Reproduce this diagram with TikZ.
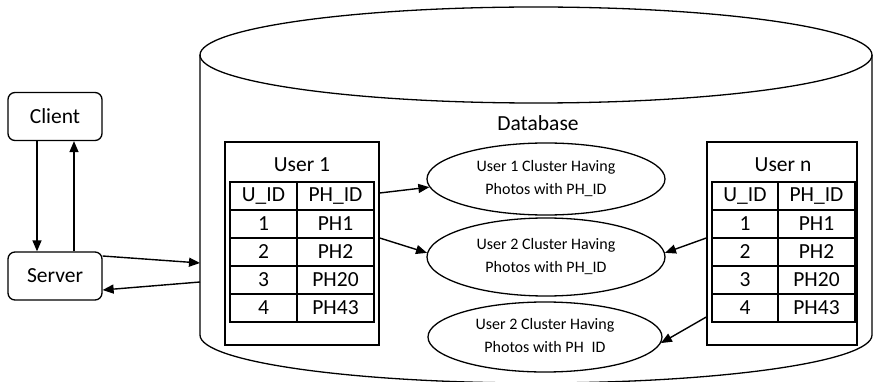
\documentclass[tikz,border=0pt]{standalone}
\usepackage{fontspec}
\setmainfont{Carlito}
\usetikzlibrary{shapes.geometric,arrows.meta}

\begin{document}
\begin{tikzpicture}[x=1pt,y=-1pt,
  mainfont/.style={font=\fontsize{21.5}{24}\selectfont},
  roundbox/.style={draw, line width=1.3pt, rounded corners=7pt, minimum width=94pt,
    minimum height=48pt, inner sep=0pt, mainfont},
  cluster/.style={draw, ellipse, line width=1.3pt, minimum width=238pt, minimum height=72pt,
    inner sep=0pt, align=center, font=\fontsize{16}{23}\selectfont},
  userbox/.style={draw, line width=1.4pt, minimum height=203pt, inner sep=0pt},
  grid/.style={line width=1.1pt},
  cell/.style={mainfont, inner sep=0pt},
  dbline/.style={line width=1.3pt},
  arr/.style={-{Triangle[length=11pt,width=9pt]}, line width=1.4pt}]

\useasboundingbox (0,0) rectangle (873,382);

% database cylinder
\draw[dbline] (200,55) -- (200,335) arc[start angle=180, end angle=0, x radius=336, y radius=48] -- (872,55);
\draw[dbline] (536,55) ellipse[x radius=336, y radius=48];
\node[mainfont] (dblabel) at (538,123) {Database};
\coordinate (dbin) at (200,263);
\coordinate (dbout) at (200,282);

% client and server
\node[roundbox] (client) at (55,116.5) {Client};
\node[roundbox] (server) at (55,276) {Server};

% user tables
\node[userbox, minimum width=154pt] (u1) at (302,243.5) {};
\node[mainfont] (u1title) at (302,165) {User 1};
\draw[grid] (230,182) rectangle (374,322);
\draw[grid] (297,182) -- (297,322);
\foreach \y in {210,238,266,294} \draw[grid] (230,\y) -- (374,\y);
\foreach [count=\i] \a/\b in {U\_ID/PH\_ID, 1/PH1, 2/PH2, 3/PH20, 4/PH43} {
  \node[cell] (u1a\i) at (263.5,168+28*\i) {\a};
  \node[cell] (u1b\i) at (335.5,168+28*\i) {\b};
}

\node[userbox, minimum width=150pt] (un) at (782,243.5) {};
\node[mainfont] (untitle) at (783,165) {User n};
\draw[grid] (712,182) rectangle (855,322);
\draw[grid] (778,182) -- (778,322);
\foreach \y in {210,238,266,294} \draw[grid] (712,\y) -- (855,\y);
\foreach [count=\i] \a/\b in {U\_ID/PH\_ID, 1/PH1, 2/PH2, 3/PH20, 4/PH43} {
  \node[cell] (una\i) at (745,168+28*\i) {\a};
  \node[cell] (unb\i) at (816.5,168+28*\i) {\b};
}

% clusters
\node[cluster] (e1) at (546,179) {User 1 Cluster Having\\Photos with PH\_ID};
\node[cluster, minimum height=78pt] (e2) at (546,257) {User 2 Cluster Having\\Photos with PH\_ID};
\node[cluster, minimum width=234pt, minimum height=70pt] (e3) at (545,337) {User 2 Cluster Having\\Photos with PH\phantom{\_}ID};

% connectors
\draw[arr] (client.south -| 37,0) -- (server.north -| 37,0);
\draw[arr] (server.north -| 74,0) -- (client.south -| 74,0);
\draw[arr] (server.east |- 0,256) -- (dbin);
\draw[arr] (dbout) -- (server.east |- 0,290);
\draw[arr] (u1.east |- 0,193) -- (e1.184);
\draw[arr] (u1.east |- 0,238) -- (e2.178);
\draw[arr] (un.west |- 0,238) -- (e2.2);
\draw[arr] (un.west |- 0,317) -- (e3.-3);
\end{tikzpicture}
\end{document}
